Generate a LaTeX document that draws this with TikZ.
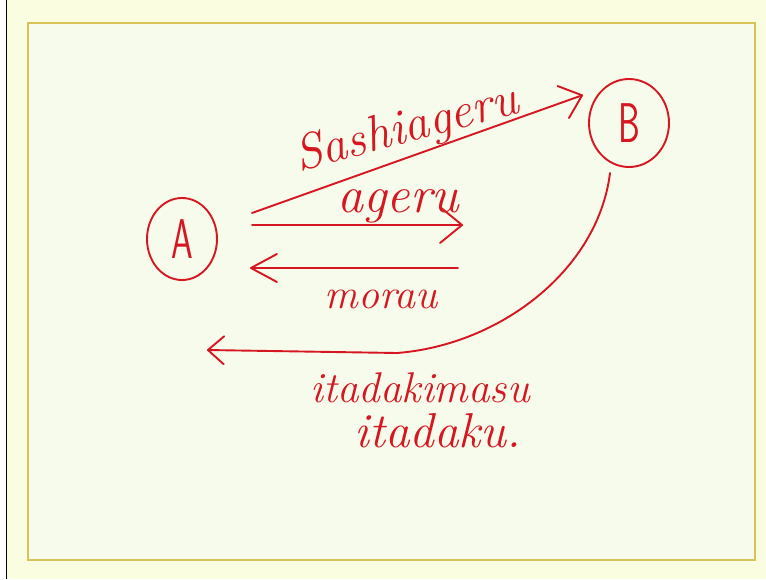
\documentclass[tikz,border=0pt]{standalone}
\usepackage{fontspec}
\usetikzlibrary{arrows.meta,shapes.geometric,calc}

\definecolor{ink}{RGB}{214,22,32}
\definecolor{pagecream}{RGB}{251,253,225}
\definecolor{sheet}{RGB}{247,251,235}
\definecolor{frame}{RGB}{215,195,88}

\begin{document}
\begin{tikzpicture}[x=1pt,y=-1pt,
  pen/.style={draw=ink, line width=1.9pt, line cap=round, line join=round},
  agent/.style={ellipse, pen, inner sep=0pt, text=ink,
    font=\sffamily\fontsize{56pt}{56pt}\selectfont},
  word/.style={text=ink, inner sep=0pt, anchor=base,
    font=\itshape\fontsize{#1}{#1}\selectfont},
  barbhead/.style 2 args={-{Straight Barb[length=#1, width=#2, line width=1.9pt, round]}}
]
% page and sheet
\useasboundingbox (0,0) rectangle (766,579);
\fill[white] (0,0) rectangle (766,579);
\fill[pagecream] (7,0) rectangle (766,579);
\draw[black, line width=1.3pt] (6.5,0) -- (6.5,579);
\draw[frame, line width=2pt, fill=sheet] (28,23) rectangle (755,560);

% the two parties
\node[agent, minimum width=70pt, minimum height=82pt] (A) at (182,239) {\scalebox{0.62}[1]{A}};
\node[agent, minimum width=80pt, minimum height=88pt] (B) at (629,123) {\scalebox{0.62}[1]{B}};

% free ends of the short arrows
\coordinate (ageruTip) at (463,225);
\coordinate (morauTail) at (458,268);
\coordinate (itaBend) at (397,353);
\coordinate (itaTip) at (207,350);

% A gives up to B
\draw[pen, barbhead={20pt}{34pt}] ($(A.center)+(70,-26)$) -- ($(B.center)+(-46,-28)$);
% A gives
\draw[pen, barbhead={22pt}{36pt}] ($(A.center)+(70,-14)$) -- (ageruTip);
% A receives
\draw[pen, barbhead={26pt}{28pt}] (morauTail) -- ($(A.center)+(68,29)$);
% A receives from above
\draw[pen, barbhead={16pt}{28pt}] ($(B.center)+(-19,50)$)
  .. controls (598,270) and (500,345) .. (itaBend) -- (itaTip);

% labels
\node[word=50pt, rotate=15] (lSashi) at (410,142) {Sashiageru};
\node[word=52pt] (lAgeru) at (398,212) {ageru};
\node[word=42pt] (lMorau) at (381,308) {morau};
\node[word=43pt] (lItaMasu) at (420,402) {itadakimasu};
\node[word=49pt] (lItaku) at (438,447) {itadaku.};
\end{tikzpicture}
\end{document}
